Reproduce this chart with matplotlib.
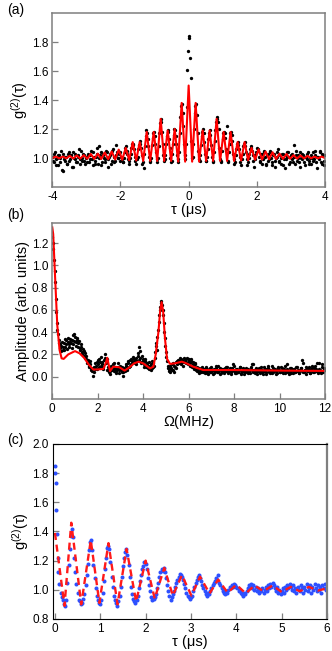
import numpy as np
import matplotlib
matplotlib.use('Agg')
from matplotlib import pyplot as plt

plt.rcParams['font.family'] = ['Liberation Sans', 'DejaVu Sans']
plt.rcParams['mathtext.fontset'] = 'custom'
plt.rcParams['mathtext.rm'] = 'Liberation Sans'
plt.rcParams['mathtext.it'] = 'Liberation Sans:italic'
plt.rcParams['axes.unicode_minus'] = False

# ---- panel (a): g2 vs tau, two interleaved sets, every 0.04 us
g2_a = [1.01, 0.97, 1.04, 0.99, 0.95, 1.02, 1.00, 0.92, 1.03, 0.98, 1.01, 0.96, 1.04,
        0.99, 1.02, 0.94, 1.00, 1.03, 0.97, 1.01, 0.99, 1.05, 0.98, 1.02, 0.96,
        1.00, 1.03, 0.97, 1.02, 0.99, 1.04, 0.96, 1.01, 1.07, 1.08, 1.02, 0.95, 1.03,
        1.00, 0.97, 1.04, 0.99, 1.02, 0.96, 1.05, 1.01, 0.98, 1.09, 1.00, 1.03,
        1.04, 0.99, 0.97, 1.04, 1.08, 1.03, 0.98, 1.00, 1.07, 1.10, 1.06, 0.98, 0.99,
        1.06, 1.12, 1.07, 0.96, 0.93, 1.08, 1.19, 1.13, 1.01, 0.97, 1.09, 1.17,
        1.15, 1.04, 0.97, 1.08, 1.24, 1.25, 1.10, 0.98, 1.02, 1.15, 1.18, 1.07, 0.97,
        1.03, 1.16, 1.19, 1.10, 0.99, 1.04, 1.28, 1.37, 1.22, 1.02, 1.10, 1.61,
        1.84,
        1.69, 1.12, 1.01, 1.20, 1.36, 1.30, 1.05, 0.98, 1.09, 1.18, 1.17, 1.03, 0.98,
        1.06, 1.17, 1.16, 1.01, 0.97, 1.12, 1.25, 1.28, 1.20, 0.99, 0.98, 1.13,
        1.18, 1.14, 1.22, 0.98, 1.10, 1.18, 1.12, 0.99, 0.97, 1.06, 1.11, 1.06, 0.97,
        0.99, 1.08, 1.11, 1.04, 0.95, 1.00, 1.06, 1.08, 1.02, 0.94, 1.02, 1.07,
        1.05, 0.98, 1.03, 0.96, 1.04, 1.01, 0.95, 1.03, 0.99, 1.05, 0.97, 1.02, 0.94,
        1.00, 1.04, 0.98, 1.02, 0.96, 1.03, 0.99, 0.93, 1.01, 1.04, 0.97, 1.02,
        0.99, 1.09, 0.96, 1.02, 1.00, 0.97, 1.04, 0.99, 1.02, 0.95, 1.01, 1.03, 0.98,
        1.00, 0.96, 1.04, 0.99, 1.02, 0.93, 1.01, 1.05, 0.97, 1.03, 0.95, 1.02]
tau_a = np.linspace(-4, 4, len(g2_a))

g2_a2 = [0.98, 1.03, 0.95, 1.00, 1.02, 0.97, 1.05, 0.91, 0.99, 1.01, 0.96, 1.03, 0.98,
         1.02, 0.94, 1.04, 0.99, 0.97, 1.02, 1.06, 0.96, 1.00, 1.03, 0.98, 1.01,
         0.97, 1.02, 0.99, 1.05, 0.95, 1.01, 0.98, 1.03, 0.96, 1.00, 1.04, 0.97, 1.02,
         0.99, 1.05, 0.94, 1.01, 1.03, 0.98, 1.06, 0.97, 1.02, 1.04, 1.00, 0.98,
         1.01, 0.97, 1.00, 1.07, 1.05, 0.99, 0.96, 1.03, 1.10, 1.09, 1.01, 0.96, 1.01,
         1.09, 1.10, 1.02, 0.97, 1.03, 1.15, 1.17, 1.08, 0.98, 1.00, 1.14, 1.18,
         1.10, 0.99, 1.00, 1.17, 1.27, 1.18, 1.02, 0.99, 1.10, 1.19, 1.13, 1.00, 0.98,
         1.10, 1.20, 1.15, 1.02, 0.97, 1.17, 1.36, 1.31, 1.10, 0.99, 1.35, 1.74,
         1.83, 1.55, 1.00, 1.10, 1.31, 1.37, 1.17, 0.99, 1.02, 1.15, 1.20, 1.11, 0.98,
         1.01, 1.13, 1.19, 1.09, 0.98, 1.04, 1.19, 1.27, 1.25, 1.07, 0.97, 1.05,
         1.17, 1.17, 1.06, 0.97, 1.04, 1.17, 1.16, 1.03, 0.96, 1.02, 1.10, 1.09, 1.01,
         0.95, 1.03, 1.10, 1.08, 0.99, 0.97, 1.03, 1.07, 1.05, 0.98, 0.99, 1.04,
         1.06, 1.01, 0.97, 1.03, 0.99, 1.05, 0.96, 1.02, 0.98, 1.04, 1.00, 0.95, 1.03,
         0.98, 1.01, 1.06, 0.97, 1.00, 1.03, 0.95, 1.02, 0.99, 1.04, 0.96, 1.01,
         1.03, 0.97, 1.01, 1.05, 0.98, 1.02, 0.94, 1.00, 1.03, 0.97, 1.01, 0.99, 1.04,
         0.96, 1.02, 1.00, 0.98, 1.05, 0.97, 1.01, 0.99, 1.04, 0.96, 1.02, 0.98]
tau_a2 = np.linspace(-3.98, 3.98, len(g2_a2))

# fit, peaks and troughs (period ~0.205 us)
fit_a = [1.000, 1.010, 0.998, 1.010, 0.998, 1.015, 0.997, 1.018, 0.996, 1.020,
         0.995, 1.028, 0.994, 1.030, 0.993, 1.038, 0.992, 1.045, 0.990, 1.058,
         0.988, 1.070, 0.985, 1.110, 0.983, 1.110, 0.980, 1.180, 0.980, 1.180,
         0.980, 1.270, 0.980, 1.190, 0.980, 1.200, 0.975, 1.380, 0.975,
         1.500,
         0.975, 1.380, 0.975, 1.190, 0.980, 1.190, 0.980, 1.270, 0.980, 1.180,
         0.980, 1.180, 0.980, 1.110, 0.983, 1.110, 0.985, 1.070, 0.988, 1.060,
         0.990, 1.045, 0.992, 1.040, 0.993, 1.030, 0.994, 1.028, 0.995, 1.020,
         0.996, 1.018, 0.997, 1.015, 0.998, 1.010, 0.998, 1.010, 1.000]
tau_fit_a = np.linspace(-4, 4, len(fit_a))

# ---- panel (b): spectrum, two interleaved sets every 0.05 MHz
amp_b = [1.25, 1.15, 0.95, 0.70, 0.48, 0.38, 0.30, 0.26, 0.28, 0.24, 0.30, 0.27, 0.33,
         0.25, 0.35, 0.29, 0.31, 0.26, 0.37, 0.32, 0.36, 0.28, 0.33, 0.30, 0.26, 0.29,
         0.22, 0.25, 0.19, 0.21, 0.16, 0.13, 0.10, 0.14, 0.08, 0.05, 0.01, 0.09, 0.12,
         0.07, 0.15, 0.09, 0.13, 0.18, 0.11, 0.07, 0.20, 0.14, 0.16, 0.09, 0.04, 0.02,
         0.08, 0.11, 0.05, 0.09, 0.03, 0.07, 0.12, 0.06, 0.10, 0.04, 0.01, 0.07, 0.05,
         0.11, 0.08, 0.14, 0.10, 0.16, 0.12, 0.18, 0.13, 0.15, 0.11, 0.21, 0.27, 0.17,
         0.12, 0.19, 0.14, 0.09, 0.16, 0.12, 0.08, 0.13, 0.10, 0.06, 0.14, 0.09, 0.17,
         0.30, 0.24, 0.42, 0.55, 0.63, 0.68, 0.60, 0.48, 0.35, 0.22, 0.14, 0.08, 0.05,
         0.10, 0.06, 0.12, 0.04, 0.09, 0.13, 0.11, 0.15, 0.12, 0.16, 0.13, 0.10, 0.17,
         0.14, 0.16, 0.11, 0.15, 0.12, 0.16, 0.09, 0.13, 0.07, 0.11, 0.05, 0.08, 0.03,
         0.07, 0.04, 0.09,
         0.06, 0.03, 0.08, 0.05, 0.02, 0.07, 0.04, 0.09, 0.06, 0.03, 0.05, 0.08, 0.04,
         0.10, 0.06, 0.02, 0.07, 0.05, 0.03, 0.08,
         0.05, 0.09, 0.04, 0.06, 0.02, 0.08, 0.11, 0.05, 0.03, 0.07, 0.04, 0.06, 0.09,
         0.03, 0.05, 0.08, 0.02, 0.06, 0.04, 0.07,
         0.05, 0.03, 0.09, 0.06, 0.11, 0.04, 0.07, 0.02, 0.05, 0.08, 0.03, 0.06, 0.04,
         0.09, 0.05, 0.02, 0.07, 0.10, 0.04, 0.06,
         0.03, 0.08, 0.05, 0.07, 0.02, 0.06, 0.09, 0.04, 0.05, 0.08, 0.03, 0.06, 0.10,
         0.04, 0.07, 0.02, 0.05, 0.08, 0.06, 0.03,
         0.07, 0.04, 0.09, 0.05, 0.03, 0.06, 0.08, 0.15, 0.04, 0.06, 0.02, 0.07, 0.05,
         0.09, 0.03, 0.06, 0.08, 0.04, 0.10, 0.05,
         0.12, 0.03, 0.07, 0.05, 0.11, 0.04, 0.08, 0.06]
omega_b = np.arange(len(amp_b)) * 0.05

amp_b2 = [1.20, 1.05, 0.85, 0.58, 0.42, 0.33, 0.29, 0.23, 0.31, 0.27,
          0.24, 0.34, 0.29, 0.31, 0.27, 0.34, 0.30, 0.33, 0.29, 0.38,
          0.31, 0.35, 0.27, 0.32, 0.24, 0.27, 0.20, 0.23, 0.17, 0.19,
          0.12, 0.15, 0.09, 0.11, 0.06, 0.08, 0.04, 0.07, 0.10, 0.13,
          0.11, 0.16, 0.10, 0.13, 0.09, 0.15, 0.17, 0.12, 0.06, 0.07,
          0.05, 0.10, 0.06, 0.08, 0.12, 0.07, 0.05, 0.09, 0.03, 0.08,
          0.06, 0.09, 0.04, 0.08, 0.10, 0.06, 0.12, 0.09, 0.15, 0.11,
          0.14, 0.16, 0.12, 0.17, 0.14, 0.19, 0.15, 0.23, 0.13, 0.16,
          0.11, 0.14, 0.09, 0.12, 0.10, 0.07, 0.11, 0.08, 0.12, 0.10,
          0.22, 0.28, 0.36, 0.49, 0.60, 0.66, 0.64, 0.55, 0.40, 0.28,
          0.18, 0.10, 0.07, 0.04, 0.08, 0.11, 0.06, 0.10, 0.08, 0.14,
          0.12, 0.14, 0.17, 0.11, 0.15, 0.13, 0.16, 0.12, 0.17, 0.13,
          0.16, 0.10, 0.14, 0.11, 0.09, 0.12, 0.06, 0.09, 0.05, 0.08,
          0.05, 0.07,
          0.04, 0.07, 0.05, 0.09, 0.03, 0.06, 0.08, 0.04, 0.06, 0.02,
          0.07, 0.05, 0.10, 0.04, 0.06, 0.08, 0.03, 0.05, 0.07, 0.04,
          0.09, 0.06, 0.03, 0.05, 0.08, 0.04, 0.06, 0.10, 0.05, 0.03,
          0.07, 0.04, 0.06, 0.09, 0.02, 0.05, 0.07, 0.04, 0.08, 0.06,
          0.03, 0.05, 0.07, 0.11, 0.04, 0.06, 0.03, 0.08, 0.05, 0.07,
          0.04, 0.09, 0.06, 0.02, 0.05, 0.07, 0.04, 0.08, 0.06, 0.03,
          0.05, 0.10, 0.04, 0.07, 0.05, 0.03, 0.08, 0.06, 0.04, 0.09,
          0.05, 0.07, 0.03, 0.06, 0.11, 0.04, 0.05, 0.08, 0.03, 0.06,
          0.07, 0.04, 0.09, 0.05, 0.06, 0.03, 0.08, 0.05, 0.12, 0.04,
          0.06, 0.09, 0.05, 0.07, 0.03, 0.06, 0.10, 0.04, 0.08, 0.05,
          0.07, 0.04, 0.12, 0.06, 0.03, 0.09, 0.05, 0.07]
omega_b2 = 0.025 + np.arange(len(amp_b2)) * 0.05

omega_fit_b = [0.0, 0.04, 0.12, 0.22, 0.32, 0.41, 0.5, 0.7, 1.0, 1.2, 1.4, 1.6, 1.8,
               2.0, 2.25, 2.35, 2.42, 2.48, 2.54, 2.68, 2.95, 3.18, 3.4, 3.6, 3.8,
               4.0, 4.3, 4.45, 4.55, 4.67, 4.75, 4.81, 4.88, 4.96, 5.05, 5.18, 5.4,
               5.7, 5.9, 6.2, 6.64, 8.0, 10.0, 12.0]
amp_fit_b = [1.34, 1.28, 0.91, 0.46, 0.24, 0.165, 0.16, 0.20, 0.23, 0.21, 0.17, 0.11,
             0.065, 0.065, 0.07, 0.12, 0.17, 0.11, 0.05, 0.09, 0.085, 0.055, 0.085,
             0.12, 0.135, 0.12, 0.075, 0.09, 0.20, 0.40, 0.60, 0.67, 0.58, 0.34, 0.16,
             0.115, 0.12, 0.135, 0.12, 0.09, 0.06, 0.06, 0.055, 0.052]

# ---- panel (c): g2 vs tau, 0..6 us
tau_c_start = [0.0, 0.01, 0.02, 0.03, 0.045, 0.06, 0.075]
g2_c_start = [1.85, 1.80, 1.73, 1.55, 1.38, 1.22, 1.12]
g2_c = [1.04, 0.98, 0.95, 0.93, 0.90, 0.89,
        0.93, 1.05, 1.17, 1.28, 1.37, 1.42, 1.36,
        1.22, 1.12, 1.04, 0.98, 0.93, 0.92, 0.90, 0.91,
        0.94, 0.97, 1.03, 1.10, 1.18, 1.27, 1.33, 1.34,
        1.27, 1.17, 1.08, 1.01, 0.96, 0.93, 0.91, 0.90,
        0.93, 0.98, 1.06, 1.14, 1.22, 1.29, 1.30, 1.28,
        1.19, 1.09, 1.02, 0.96, 0.93, 0.91, 0.89, 0.92,
        0.96, 1.02, 1.09, 1.16, 1.22, 1.26, 1.28, 1.24,
        1.17, 1.09, 1.02, 0.97, 0.94, 0.92, 0.91, 0.93,
        0.96, 1.01, 1.06, 1.10, 1.14, 1.16, 1.19, 1.18,
        1.14, 1.08, 1.03, 0.99, 0.95, 0.93, 0.94, 0.95,
        0.97, 1.01, 1.05, 1.09, 1.12, 1.14, 1.13, 1.15,
        1.12, 1.08, 1.03, 0.99, 0.96, 0.93, 0.95, 0.97,
        0.99, 1.02, 1.05, 1.07, 1.09, 1.11, 1.10, 1.09,
        1.07, 1.04, 1.01, 0.98, 0.96, 0.95, 0.94, 0.95,
        0.96, 0.99, 1.02, 1.05, 1.07, 1.09, 1.10, 1.08,
        1.06, 1.03, 1.01, 0.99, 0.97, 0.96, 0.98, 0.97,
        0.99, 1.01, 1.03, 1.05, 1.06, 1.08, 1.07, 1.10,
        1.05, 1.03, 1.01, 0.99, 0.98, 0.97, 0.99, 0.98,
        1.00, 1.02, 1.01, 1.03, 1.02, 1.04, 1.03, 1.02,
        1.01, 0.99, 1.00, 0.98, 0.97, 0.96, 0.98, 0.97,
        0.99, 1.01, 1.03, 1.02, 1.04, 1.01, 1.03, 1.00, 1.02, 0.99, 1.01, 0.98,
        1.00, 0.99, 1.01, 0.98, 1.00, 1.02, 0.99, 1.03, 1.01, 1.04, 1.02, 1.05,
        1.03, 1.01, 0.99, 1.02, 0.98, 1.00, 0.97, 0.99, 1.01, 0.98, 1.02, 1.00,
        1.03, 1.01, 1.04, 1.02, 1.00, 1.03, 0.99, 1.01, 0.98, 1.02, 1.00, 0.99,
        1.03, 1.01, 0.98, 1.02, 1.00, 1.04, 0.99, 1.01, 1.03, 0.98, 1.02, 1.00,
        1.04, 1.01, 0.99, 1.03, 1.00, 1.02, 0.98, 1.03, 1.01, 1.04, 1.00, 1.02]
tau_c = np.concatenate([tau_c_start, 0.1 + 0.025 * np.arange(len(g2_c))])
g2_c_all = np.concatenate([g2_c_start, g2_c])

tau_fit_c = [0.0, 0.21, 0.36, 0.58, 0.79, 0.98, 1.18, 1.38, 1.58, 1.79, 2.0, 2.2,
             2.41, 2.6, 2.8, 3.01, 3.2, 3.41, 3.6, 3.81, 4.0, 4.21, 4.4, 4.6, 4.8,
             5.0, 5.2, 5.4, 5.6, 5.8, 6.0]
fit_c = [1.39, 0.89, 1.46, 0.90, 1.34, 0.91, 1.32, 0.90, 1.28, 0.92, 1.20, 0.94,
         1.15, 0.96, 1.10, 0.96, 1.09, 0.975, 1.07, 0.98, 1.035, 0.975, 1.03, 0.99,
         1.03, 0.985, 1.02, 0.99, 1.02, 0.995, 1.01]

W, H = 332, 651
fig = plt.figure(figsize=(W / 100, H / 100), dpi=100)

ax_a = fig.add_axes([0.1575, 0.7127, 0.8214, 0.2673])
ax_b = fig.add_axes([0.1575, 0.3871, 0.8214, 0.2704])
ax_c = fig.add_axes([0.1587, 0.0492, 0.8262, 0.2688])

gray = '#7f7f7f'


def style(ax):
	for s in ax.spines.values():
		s.set_color(gray)
		s.set_linewidth(1.1)
	ax.tick_params(direction='in', length=4, width=0.9, color=gray,
	               labelsize=8.5, pad=3)


# (a)
for t, g in [(tau_a, g2_a), (tau_a2, g2_a2)]:
	ax_a.plot(t, g, 'o', color='black', markersize=2.4, markeredgewidth=0)
ax_a.plot(tau_fit_a, fit_a, '-', color='#ff0000', linewidth=1.5)
ax_a.set_xlim(-4, 4)
ax_a.set_ylim(0.8, 2.0)
ax_a.set_xticks([-4, -2, 0, 2, 4])
ax_a.set_yticks([1.0, 1.2, 1.4, 1.6, 1.8])
style(ax_a)
ax_a.set_xlabel('τ (μs)', fontsize=10.5, labelpad=0)
ax_a.set_ylabel('g$^{(2)}$(τ)', fontsize=10.5, labelpad=1)

# (b)
for o, a in [(omega_b, amp_b), (omega_b2, amp_b2)]:
	ax_b.plot(o, a, 'o', color='black', markersize=2.4, markeredgewidth=0)
ax_b.plot(omega_fit_b, amp_fit_b, '-', color='#ff0000', linewidth=1.5)
ax_b.set_xlim(0, 12)
ax_b.set_ylim(-0.2, 1.38)
ax_b.set_xticks([0, 2, 4, 6, 8, 10, 12])
ax_b.set_yticks([0.0, 0.2, 0.4, 0.6, 0.8, 1.0, 1.2])
style(ax_b)
ax_b.set_xlabel('Ω(MHz)', fontsize=10.5, labelpad=0)
ax_b.set_ylabel('Amplitude (arb. units)', fontsize=10.5, labelpad=1)

# (c)
ax_c.plot(tau_c, g2_c_all, 'o', color='#2d50ff', markersize=2.9, markeredgewidth=0)
ax_c.plot(tau_fit_c, fit_c, '--', color='#ff1a1a', linewidth=1.7, dashes=(3, 2))
ax_c.set_xlim(-0.05, 6.0)
ax_c.set_ylim(0.8, 2.0)
ax_c.set_xticks([0, 1, 2, 3, 4, 5, 6])
ax_c.set_yticks([0.8, 1.0, 1.2, 1.4, 1.6, 1.8, 2.0])
style(ax_c)
for side in ['top', 'left', 'bottom']:
	ax_c.spines[side].set_color('black')
	ax_c.spines[side].set_linewidth(0.8)
ax_c.spines['right'].set_linewidth(1.6)
ax_c.set_xlabel('τ (μs)', fontsize=10.5, labelpad=0)
ax_c.set_ylabel('g$^{(2)}$(τ)', fontsize=10.5, labelpad=1)

fig.text(0.048, 0.985, '(a)', fontsize=10, ha='center', va='center')
fig.text(0.048, 0.670, '(b)', fontsize=10, ha='center', va='center')
fig.text(0.045, 0.324, '(c)', fontsize=10, ha='center', va='center')

fig.savefig('out.png', dpi=100)
